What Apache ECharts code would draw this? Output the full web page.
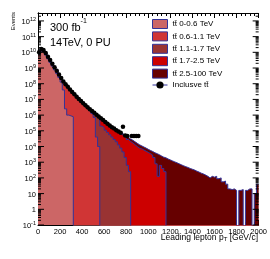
<!DOCTYPE html>
<html><head><meta charset="utf-8">
<script src="https://cdn.jsdelivr.net/npm/echarts@6/dist/echarts.min.js"></script>
<style>html,body{margin:0;padding:0;background:#fff}#c{width:270px;height:259px}</style>
</head><body><div id="c"></div>
<script>
// ---- data (events per 20 GeV bin) ----
const binWidth = 20;           // GeV
const nBins = 100;             // 0 - 2000 GeV
const xTickLabels = ['0','200','400','600','800','1000','1200','1400','1600','1800','2000'];
const yDecades = [0.1,1,10,1e2,1e3,1e4,1e5,1e6,1e7,1e8,1e9,1e10,1e11,1e12];
const yTickLabels = ['10{s|-1}','1','10','10{s|2}','10{s|3}','10{s|4}','10{s|5}','10{s|6}','10{s|7}','10{s|8}','10{s|9}','10{s|10}','10{s|11}','10{s|12}'];
const seriesNames = ['tt\u0304 0-0.6 TeV','tt\u0304 0.6-1.1 TeV','tt\u0304 1.1-1.7 TeV','tt\u0304 1.7-2.5 TeV','tt\u0304 2.5-100 TeV'];
const inclusiveName = 'Inclusve tt\u0304';

// stacked levels (cumulative sums shown by the stack), one array per layer
const stackUpTo0_6 = [7.6e9,1.17e10,1.05e10,6.6e9,3.8e9,2.24e9,1.32e9,7.6e8,4.5e8,2.5e8,
  1.26e8,4.0e7,2.5e6,1.0e6,8.9e5,7.9e5];
const stackUpTo1_1 = [1.0e10,1.6e10,1.4e10,8.9e9,5.2e9,3.2e9,1.9e9,1.1e9,6.6e8,3.8e8,
  2.3e8,1.4e8,9.3e7,6.3e7,4.3e7,3.0e7,2.1e7,1.5e7,1.07e7,7.8e6,
  5.2e6,3.8e6,2.7e6,1.9e6,1.26e6,7.1e5,4.0e4,1.0e4];
const stackUpTo1_7 = [1.0e10,1.6e10,1.4e10,8.9e9,5.2e9,3.2e9,1.9e9,1.1e9,6.6e8,3.8e8,
  2.3e8,1.4e8,9.3e7,6.3e7,4.3e7,3.0e7,2.1e7,1.5e7,1.07e7,7.8e6,
  5.8e6,4.3e6,3.2e6,2.4e6,1.8e6,1.4e6,1.07e6,8.3e5,2.0e5,1.6e5,
  1.1e5,7.9e4,5.6e4,4.0e4,2.8e4,2.0e4,1.26e4,7.9e3,4.5e3,2.0e3,
  630,250];
const stackUpTo2_5 = [1.0e10,1.6e10,1.4e10,8.9e9,5.2e9,3.2e9,1.9e9,1.1e9,6.6e8,3.8e8,
  2.3e8,1.4e8,9.3e7,6.3e7,4.3e7,3.0e7,2.1e7,1.5e7,1.07e7,7.8e6,
  5.8e6,4.3e6,3.2e6,2.4e6,1.8e6,1.4e6,1.07e6,8.3e5,6.2e5,4.7e5,
  3.5e5,2.7e5,2.1e5,1.6e5,1.26e5,9.5e4,7.6e4,6.0e4,4.8e4,3.8e4,
  2.8e4,2.1e4,1.7e4,1.3e4,1.0e4,7.9e3,7.1e3,6.0e3,5.0e3,4.2e3,
  3.5e3,2.8e3,2.0e3,790,126,630,400,250];
const stackUpTo100 = [1.0e10,1.6e10,1.4e10,8.9e9,5.2e9,3.2e9,1.9e9,1.1e9,6.6e8,3.8e8,
  2.3e8,1.4e8,9.3e7,6.3e7,4.3e7,3.0e7,2.1e7,1.5e7,1.07e7,7.8e6,
  5.8e6,4.3e6,3.2e6,2.4e6,1.8e6,1.4e6,1.07e6,8.3e5,6.3e5,4.8e5,
  3.6e5,2.8e5,2.2e5,1.7e5,1.4e5,1.1e5,8.9e4,7.2e4,5.9e4,4.8e4,
  3.8e4,3.0e4,2.5e4,2.0e4,1.6e4,1.3e4,1.1e4,9.3e3,7.9e3,6.6e3,
  5.6e3,4.8e3,4.0e3,3.5e3,3.0e3,2.5e3,2.1e3,1.9e3,1.6e3,1.4e3,
  1.2e3,1.05e3,910,790,680,590,520,460,400,355,
  316,270,234,200,178,151,126,100,126,112,
  126,89,100,56,63,40,20,18,20,16,
  0,16,18,0,16,20,20,0,10,40];
// inclusive sample points (bin centres), empty bins = 0
const inclusive = [1.0e10,1.6e10,1.4e10,8.9e9,5.2e9,3.2e9,1.9e9,1.1e9,6.6e8,3.8e8,
  2.3e8,1.4e8,9.3e7,6.3e7,4.3e7,3.0e7,2.1e7,1.5e7,1.07e7,7.8e6,
  5.8e6,4.3e6,3.2e6,2.4e6,1.8e6,1.4e6,1.07e6,8.3e5,6.3e5,4.8e5,
  3.6e5,2.8e5,2.2e5,1.7e5,1.4e5,1.1e5,8.9e4,7.5e4,1.8e5,5.0e4,
  4.7e4,0,4.7e4,4.7e4,4.7e4,4.7e4];

const fillColors = ['#cc6666','#d03535','#993333','#cc0000','#660000'];
const outline = '#333399';

// ---- build ----
const FLOOR = 1e-9; // empty bin -> far below the axis minimum
function stepData(vals){
  const d = [];
  for (let i = 0; i < nBins; i++) {
    const v = i < vals.length ? vals[i] : 0;
    d.push([i*binWidth, v > 0 ? v : FLOOR]);
  }
  d.push([nBins*binWidth, d[d.length-1][1]]);
  return d;
}
const layers = [stackUpTo0_6, stackUpTo1_1, stackUpTo1_7, stackUpTo2_5, stackUpTo100];
const series = [];
for (let k = layers.length-1; k >= 0; k--) {
  series.push({
    type:'line', name: seriesNames[k], step:'end', symbol:'none', clip:true,
    data: stepData(layers[k]),
    lineStyle:{color:outline, width:1},
    itemStyle:{color:fillColors[k]},
    areaStyle:{color:fillColors[k], opacity:1, origin:'start'},
    animation:false, z:2
  });
}
const incData = [];
inclusive.forEach((v,i)=>{ if (v>0) incData.push([i*binWidth+binWidth/2, v]); });
series.push({
  type:'line', name: inclusiveName, data: incData, symbol:'circle', symbolSize:4.5,
  itemStyle:{color:'#000'}, lineStyle:{opacity:0}, animation:false, z:5
});
const FONT = 'Liberation Sans';
// log-axis frame ticks (minor 2..9 per decade) on left/right edges
const yMinor = [];
for (let e = -1; e <= 12; e++) for (let m = 2; m <= 9; m++) { const v = m*Math.pow(10,e); if (v < 3.2e12) yMinor.push([0, v]); }
series.push({
  type:'custom', silent:true, animation:false, z:6, clip:false,
  data: yMinor,
  renderItem:(p, api)=>{
    const v = api.value(1);
    const a = api.coord([0, v]), b = api.coord([2000, v]);
    return {type:'group', children:[
      {type:'line', shape:{x1:a[0], y1:a[1], x2:a[0]+3, y2:a[1]}, style:{stroke:'#000', lineWidth:1}},
      {type:'line', shape:{x1:b[0]-3, y1:b[1], x2:b[0], y2:b[1]}, style:{stroke:'#000', lineWidth:1}}
    ]};
  }
});
// decade ticks + labels
series.push({
  type:'custom', silent:true, animation:false, z:6, clip:false,
  data: yDecades.map((v,i)=>[0, v, i]),
  renderItem:(p, api)=>{
    const v = api.value(1), idx = api.value(2);
    const a = api.coord([0, v]), b = api.coord([2000, v]);
    return {type:'group', children:[
      {type:'line', shape:{x1:a[0], y1:a[1], x2:a[0]+6, y2:a[1]}, style:{stroke:'#000', lineWidth:1}},
      {type:'line', shape:{x1:b[0]-6, y1:b[1], x2:b[0], y2:b[1]}, style:{stroke:'#000', lineWidth:1}},
      {type:'text', x:a[0]-2, y:a[1]+1, style:{text:yTickLabels[idx], fill:'#000',
        font:'7.5px "Liberation Sans"', align:'right', verticalAlign:'middle',
        rich:{s:{fontFamily:FONT, fontSize:5.5, fill:'#000', padding:[0,0,5,0]}}}}
    ]};
  }
});

const chart = echarts.init(document.getElementById('c'), null, {renderer:'canvas'});
chart.setOption({
  animation:false,
  backgroundColor:'#fff',
  grid:{left:38, right:11, top:13, bottom:34},
  xAxis:[{
    type:'value', min:0, max:2000, interval:200,
    axisLine:{lineStyle:{color:'#000', width:1}},
    axisTick:{inside:true, length:5, lineStyle:{color:'#000'}},
    minorTick:{show:true, splitNumber:5, length:3, lineStyle:{color:'#000'}},
    splitLine:{show:false},
    axisLabel:{fontFamily:FONT, fontSize:7.5, color:'#000', margin:3,
      formatter:(v)=>xTickLabels[Math.round(v/200)]}
  },{
    type:'value', position:'top', min:0, max:2000, interval:200,
    axisLine:{lineStyle:{color:'#000', width:1}},
    axisTick:{inside:true, length:5, lineStyle:{color:'#000'}},
    minorTick:{show:true, splitNumber:5, length:3, lineStyle:{color:'#000'}},
    splitLine:{show:false}, axisLabel:{show:false}
  }],
  yAxis:[{
    type:'log', logBase:10, min:0.1, max:3.2e12,
    axisLine:{lineStyle:{color:'#000', width:1}},
    axisTick:{show:false}, splitLine:{show:false}, axisLabel:{show:false}
  },{
    type:'log', logBase:10, min:0.1, max:3.2e12, position:'right',
    axisLine:{lineStyle:{color:'#000', width:1}},
    axisTick:{show:false}, splitLine:{show:false}, axisLabel:{show:false}
  }],
  legend:{
    orient:'vertical', left:152, top:19, itemWidth:15, itemHeight:9, itemGap:2.4, padding:0,
    textStyle:{fontFamily:FONT, fontSize:8, color:'#000'},
    data: seriesNames.map((n,k)=>({name:n, icon:'rect',
      itemStyle:{color:fillColors[k], borderColor:outline, borderWidth:1}}))
      .concat([{name:inclusiveName, lineStyle:{color:outline, width:1, opacity:1}}])
  },
  graphic:[
    {type:'text', left:50, top:18, style:{text:'{b|300 fb}{s|-1}', fill:'#000',
      rich:{b:{fontFamily:FONT, fontSize:11, lineHeight:15, verticalAlign:'bottom'},
            s:{fontFamily:FONT, fontSize:7, lineHeight:15, verticalAlign:'top'}}}},
    {type:'text', left:50, top:37, style:{text:'14TeV, 0 PU', fill:'#000', font:'11px "Liberation Sans"'}},
    {type:'text', x:13, y:12, rotation:Math.PI/2, style:{text:'Events', fill:'#000',
      font:'6px "Liberation Sans"', align:'right', verticalAlign:'middle'}},
    {type:'text', right:12, top:233, style:{text:'Leading lepton p{sub|T} [GeV/c]', fill:'#000',
      font:'8.5px "Liberation Sans"',
      rich:{sub:{fontFamily:FONT, fontSize:6, padding:[4,0,0,0]}}}}
  ],
  series: series
});
</script>
</body></html>
